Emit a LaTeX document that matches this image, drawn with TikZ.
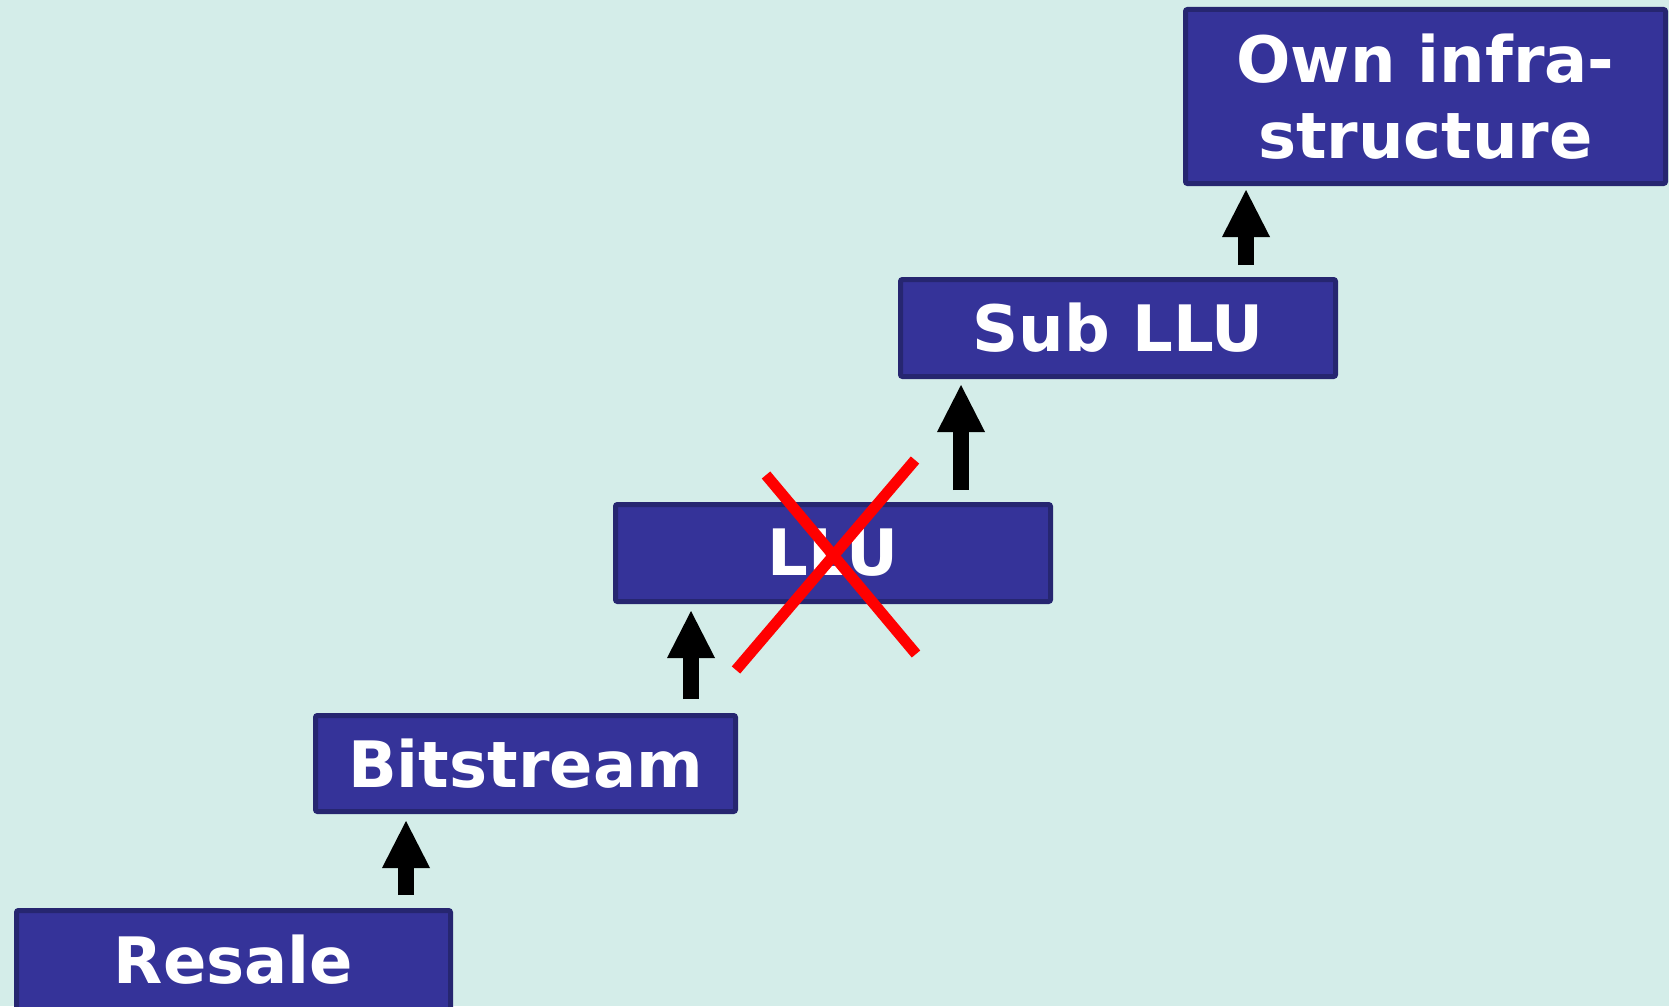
\documentclass[tikz,border=0pt]{standalone}
\usepackage{fontspec}
\setmainfont{DejaVu Sans}
\usetikzlibrary{arrows.meta}
\definecolor{bg}{RGB}{212,237,233}
\definecolor{boxfill}{RGB}{53,51,153}
\definecolor{boxline}{RGB}{38,38,112}
\begin{document}
\begin{tikzpicture}[x=1pt,y=-1pt,
  box/.style={draw=boxline, line width=5pt, fill=boxfill, rounded corners=2pt, text=white,
    font=\fontsize{64}{76}\selectfont\bfseries, inner sep=0pt, align=center},
  bigarrow/.style={line width=16pt, -{Triangle[width=48pt,length=47pt,line width=0pt]}},
  crossline/.style={red, line width=11pt}]
\useasboundingbox[fill=bg] (0,0) rectangle (1669,1006);
% boxes
\node[box, minimum width=434pt, minimum height=99pt] (resale) at (233.5,960) {Resale};
\node[box, minimum width=420pt, minimum height=96pt] (bitstream) at (525.5,763.5) {Bitstream};
\node[box, minimum width=435pt, minimum height=97pt] (llu) at (833,553) {LLU};
\node[box, minimum width=435pt, minimum height=97pt] (subllu) at (1118,328) {Sub LLU};
\node[box, minimum width=480pt, minimum height=174pt] (own) at (1425.5,96.5) {Own infra-\\structure};
% arrow positions
\coordinate (x1) at (406,0);
\coordinate (x2) at (691,0);
\coordinate (x3) at (961,0);
\coordinate (x4) at (1246,0);
\draw[bigarrow, shorten <=13pt, shorten >=7pt] (resale.north -| x1) -- (bitstream.south -| x1);
\draw[bigarrow, shorten <=14pt, shorten >=7pt] (bitstream.north -| x2) -- (llu.south -| x2);
\draw[bigarrow, shorten <=12pt, shorten >=6pt] (llu.north -| x3) -- (subllu.south -| x3);
\draw[bigarrow, shorten <=12pt, shorten >=4pt] (subllu.north -| x4) -- (own.south -| x4);
% red cross
\coordinate (c1a) at (766,475);
\coordinate (c1b) at (916,654);
\coordinate (c2a) at (736,670);
\coordinate (c2b) at (915,460);
\draw[crossline] (c1a) -- (c1b);
\draw[crossline] (c2a) -- (c2b);
\end{tikzpicture}
\end{document}
